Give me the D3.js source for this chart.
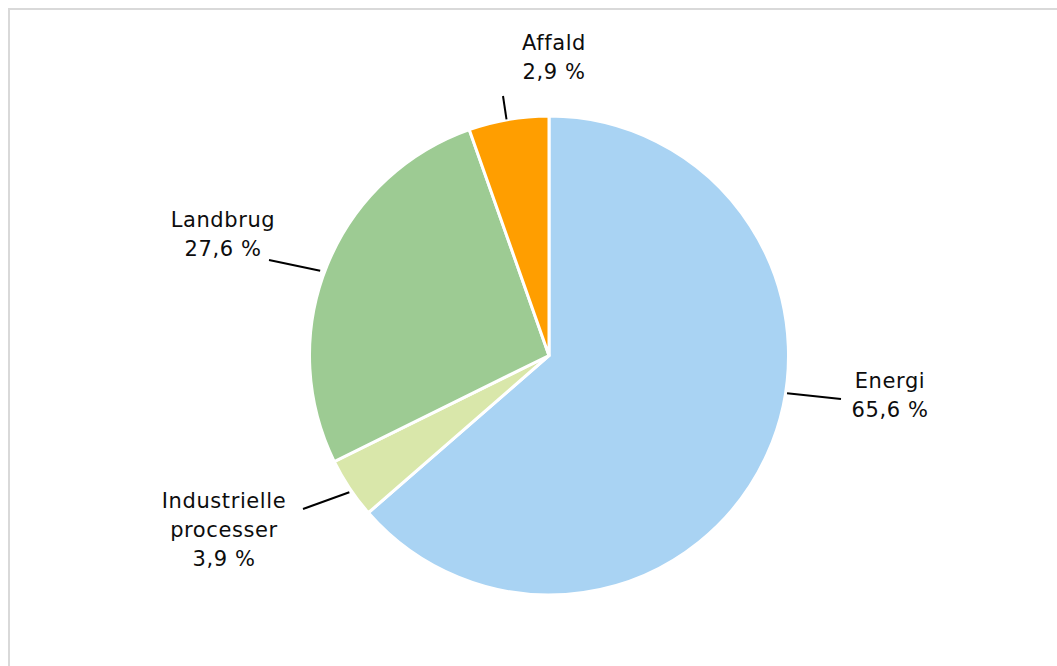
<!DOCTYPE html>
<html>
<head>
<meta charset="utf-8">
<script src="https://cdn.jsdelivr.net/npm/d3@7"></script>
<style>
html,body{margin:0;padding:0;background:#fff;}
svg{display:block;}
</style>
</head>
<body>
<script>
// Data
const categories = ["Energi", "Industrielle processer", "Landbrug", "Affald"];
const sliceValues = [63.6, 4.1, 26.9, 5.4];          // slice sizes as drawn
const labelValues = ["65,6 %", "3,9 %", "27,6 %", "2,9 %"]; // printed data labels
const labelLines = [["Energi"], ["Industrielle", "processer"], ["Landbrug"], ["Affald"]];
const colors = ["#A9D3F3", "#D9E7AA", "#9DCB93", "#FF9E00"];

const W = 1057, H = 666;
const cx = 549, cy = 355.5, R = 239.5;

const svg = d3.select("body").append("svg").attr("width", W).attr("height", H);

// chart border
svg.append("rect").attr("x", 9).attr("y", 9).attr("width", 1100).attr("height", 700)
  .attr("fill", "#fff").attr("stroke", "#d9d9d9").attr("stroke-width", 2);

const pie = d3.pie().sort(null).value(d => d)(sliceValues);
const arc = d3.arc().innerRadius(0).outerRadius(R);

const g = svg.append("g").attr("transform", `translate(${cx},${cy})`);
g.selectAll("path").data(pie).join("path")
  .attr("d", arc)
  .attr("fill", (d, i) => colors[i])
  .attr("stroke", "#fff").attr("stroke-width", 3).attr("stroke-linejoin", "miter");

// label layout (center x, first baseline y), leader start angle (deg, clockwise from top), leader end
const layout = [
  {x: 890, y: 388, ang: 99, r: 241, ex: 841, ey: 399},
  {x: 224, y: 508, ang: 235.6, r: 242, ex: 303, ey: 509},
  {x: 223, y: 227, ang: 290.3, r: 244, ex: 269, ey: 260},
  {x: 554, y: 50, ang: 349.8, r: 240, ex: 503, ey: 96}
];
const lh = 29;

layout.forEach((L, i) => {
  const a = L.ang * Math.PI / 180;
  const sx = cx + L.r * Math.sin(a), sy = cy - L.r * Math.cos(a);
  svg.append("line").attr("x1", sx).attr("y1", sy).attr("x2", L.ex).attr("y2", L.ey)
    .attr("stroke", "#000").attr("stroke-width", 2);
  const t = svg.append("text").attr("text-anchor", "middle")
    .attr("font-family", "DejaVu Sans, Verdana, sans-serif").attr("font-size", 21)
    .attr("letter-spacing", 0.6).attr("fill", "#0d0d0d");
  const lines = labelLines[i].concat([labelValues[i]]);
  lines.forEach((s, k) => {
    t.append("tspan").attr("x", L.x).attr("y", L.y + k * lh).text(s);
  });
});
</script>
</body>
</html>
